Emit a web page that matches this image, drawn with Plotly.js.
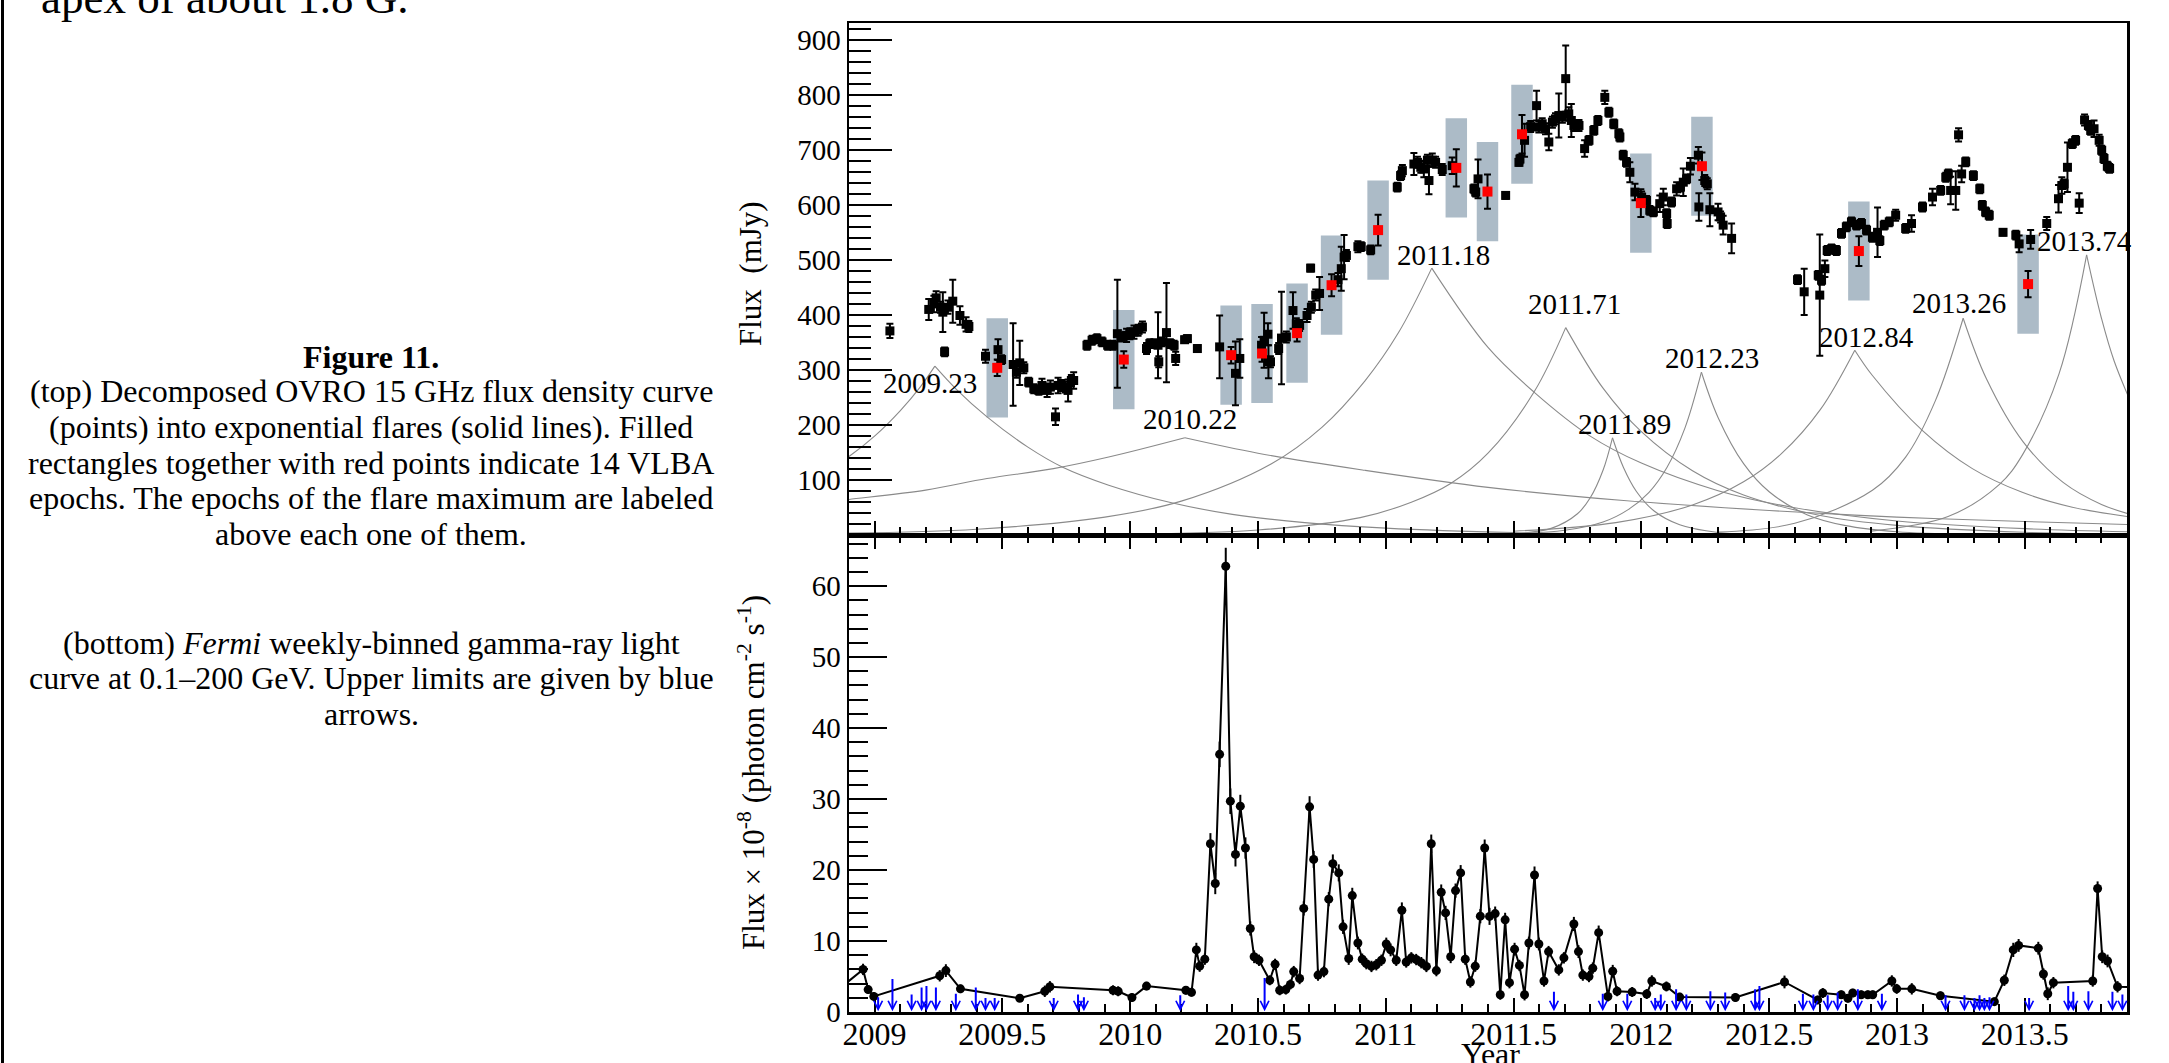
<!DOCTYPE html>
<html><head><meta charset="utf-8">
<script src="https://cdn.plot.ly/plotly-3.0.1.min.js"></script>
<style>html,body{margin:0;padding:0;background:#fff;overflow:hidden;} #chart{width:2169px;height:1063px;}</style>
</head><body><div id="chart"></div>
<script>
// ---------------- OVRO 15 GHz points (year, mJy, error) ----------------
const ovroT = [
 2009.060,2009.212,2009.232,2009.241,2009.258,2009.267,2009.274,2009.287,2009.306,2009.334,
 2009.358,2009.369,2009.434,2009.483,2009.497,2009.542,2009.555,2009.568,2009.584,2009.603,
 2009.623,2009.643,2009.655,2009.675,2009.688,2009.708,2009.718,2009.733,2009.747,2009.757,
 2009.770,2009.779,2009.831,2009.851,2009.870,2009.890,2009.912,2009.933,2009.950,2009.966,
 2009.986,2009.999,2010.015,2010.031,2010.048,2010.064,2010.077,2010.093,2010.109,2010.112,
 2010.124,2010.142,2010.157,2010.172,2010.178,2010.213,2010.224,2010.263,2010.350,2010.412,
 2010.429,2010.514,2010.524,2010.539,2010.541,2010.549,2010.581,2010.592,2010.611,2010.637,
 2010.650,2010.663,2010.692,2010.706,2010.709,2010.726,2010.741,2010.813,2010.826,2010.837,
 2010.846,2010.891,2010.904,2010.941,2011.045,2011.058,2011.065,2011.110,2011.124,2011.137,
 2011.149,2011.163,2011.169,2011.182,2011.195,2011.221,2011.260,2011.345,2011.352,2011.361,
 2011.469,2011.521,2011.525,2011.543,2011.567,2011.590,2011.599,2011.612,2011.625,2011.638,
 2011.652,2011.664,2011.677,2011.691,2011.704,2011.716,2011.726,2011.736,2011.756,2011.778,
 2011.795,2011.814,2011.830,2011.857,2011.873,2011.892,2011.912,2011.916,2011.929,2011.942,
 2011.955,2011.975,2012.001,2012.020,2012.033,2012.047,2012.072,2012.086,2012.099,2012.101,
 2012.118,2012.138,2012.153,2012.164,2012.177,2012.192,2012.223,2012.225,2012.248,2012.258,
 2012.268,2012.300,2012.310,2012.320,2012.353,2012.611,2012.637,2012.692,2012.698,2012.705,
 2012.718,2012.727,2012.744,2012.763,2012.783,2012.802,2012.822,2012.842,2012.861,2012.881,
 2012.904,2012.924,2012.933,2012.950,2012.970,2012.995,2013.034,2013.057,2013.100,2013.139,
 2013.171,2013.191,2013.201,2013.210,2013.230,2013.241,2013.253,2013.269,2013.299,2013.324,
 2013.334,2013.347,2013.361,2013.415,2013.465,2013.478,2013.523,2013.586,2013.632,2013.645,
 2013.654,2013.667,2013.686,2013.699,2013.713,2013.734,2013.749,2013.758,2013.771,2013.791,
 2013.801,2013.810,2013.823,2013.832];
const ovroF = [
 371,410,420,431,414,405,333,414,425,399,
 383,379,325,337,319,310,296,313,304,278,
 266,263,272,263,269,215,272,272,269,263,
 281,281,345,354,357,351,345,345,366,360,
 363,366,369,372,378,339,348,348,345,315,
 351,368,348,345,321,355,357,339,342,294,
 321,345,354,365,315,315,339,358,360,408,
 384,381,399,485,414,436,439,464,484,505,
 508,524,524,518,632,653,662,674,677,668,
 665,681,644,681,677,664,671,629,623,647,
 617,677,683,717,742,780,741,747,738,714,
 750,756,762,759,829,765,753,744,744,702,
 717,735,753,795,768,747,729,723,690,677,
 659,623,614,608,590,587,602,614,584,566,
 605,629,632,641,647,670,690,596,644,638,
 591,587,578,563,539,464,442,472,436,463,
 484,517,520,517,548,560,569,563,566,554,
 541,550,535,563,569,581,557,566,596,614,
 626,650,656,626,626,727,656,678,653,629,
 599,587,581,550,545,529,537,566,611,635,
 638,668,711,717,603,754,744,735,738,717,
 699,684,670,666];
const ovroE = [
 13,19,15,12,10,36,8,12,39,17,
 13,10,12,19,8,75,10,40,10,8,
 8,8,12,12,12,15,14,10,10,20,
 10,15,8,8,8,8,8,8,98,8,
 12,10,12,10,10,10,8,8,60,10,
 8,90,8,8,12,6,6,6,57,58,
 35,15,50,20,30,10,10,84,10,33,
 10,10,12,6,10,10,30,12,40,40,
 10,10,8,8,8,8,10,20,10,10,
 15,10,25,12,10,10,15,8,8,35,
 6,6,8,30,10,27,10,10,10,15,
 10,10,40,10,60,12,30,10,10,15,
 8,8,8,12,8,8,8,8,8,8,
 18,15,10,8,8,8,15,15,8,8,
 8,12,8,25,8,15,15,25,10,10,
 30,15,10,17,27,8,42,8,110,8,
 15,8,8,8,8,8,8,8,8,8,
 8,45,8,8,8,10,8,15,8,15,
 8,8,8,25,35,12,15,8,8,8,
 8,8,8,6,8,15,17,12,25,15,
 8,45,8,8,18,10,8,8,15,10,
 8,8,8,8];

// ---------------- 14 VLBA epochs (red points) ----------------
const vlbaT = [2009.480,2009.975,2010.395,2010.516,2010.653,2010.788,2010.970,2011.276,2011.398,2011.533,2011.998,2012.237,2012.851,2013.513];
const vlbaF = [304,319,327,330,367,454,554,667,624,728,603,670,516,456];
const vlbaE = [15,15,15,15,15,20,28,34,31,35,25,25,27,24];

// ---------------- exponential flares ----------------
const flareLabels = ['2009.23','2010.22','2011.18','2011.71','2011.89','2012.23','2012.84','2013.26','2013.74'];
const flarePeakT = [2009.236,2010.214,2011.180,2011.704,2011.887,2012.235,2012.835,2013.259,2013.742];
const flarePeakF = [307,177,485,377,177,296,336,394,509];
const flareRiseT = [
 [2008.85,2008.9,2009.0,2009.1,2009.18,2009.236],
 [2008.85,2008.9,2009.2,2009.44,2009.7,2009.916,2010.214],
 [2008.85,2009.4,2009.901,2010.2,2010.553,2010.75,2010.918,2011.05,2011.18],
 [2010.0,2010.5,2010.9,2011.1,2011.254,2011.4,2011.58,2011.704],
 [2011.4,2011.5,2011.65,2011.75,2011.8,2011.85,2011.887],
 [2011.5,2011.7,2011.85,2011.95,2012.03,2012.1,2012.17,2012.235],
 [2011.5,2011.9,2012.2,2012.4,2012.55,2012.7,2012.835],
 [2012.3,2012.6,2012.904,2013.034,2013.15,2013.259],
 [2012.9,2013.2,2013.4,2013.491,2013.634,2013.742]];
const flareRiseF = [
 [128,143,180,226,270,307],
 [62,65,82,103,121,142,177],
 [3.5,11,33,62,130,196,280,368,485],
 [2,9.5,32,60,94,149,260,377],
 [1,2.5,13,39,68,118,177],
 [2.5,9,24,47,78,123,194,296],
 [7.4,23,55,97,149,228,336],
 [5.8,21.7,81.7,142,244,394],
 [7.5,34,92,146,293,509]];
const flareDecayT = [
 [2009.236,2009.32,2009.44,2009.6,2009.734,2009.916,2010.162,2010.4,2010.683,2011.0,2011.5,2012.0,2012.7,2013.3,2013.95],
 [2010.214,2010.5,2010.918,2011.4,2011.919,2012.5,2013.0,2013.5,2013.95],
 [2011.18,2011.4,2011.58,2011.8,2012.0,2012.3,2012.6,2013.0,2013.5,2013.95],
 [2011.704,2011.85,2012.0,2012.2,2012.4,2012.7,2013.0,2013.5,2013.95],
 [2011.887,2011.93,2011.98,2012.05,2012.15,2012.3,2012.5,2012.8],
 [2012.235,2012.3,2012.4,2012.5,2012.65,2012.8,2013.0,2013.3,2013.9],
 [2012.835,2012.904,2013.1,2013.295,2013.49,2013.686,2013.95],
 [2013.259,2013.35,2013.493,2013.65,2013.8,2013.95],
 [2013.742,2013.8,2013.85,2013.95]];
const flareDecayF = [
 [307,265,215,160,124,91,59,38,23,13,5,2,0.6,0.2,0.1],
 [177,149,118,87,63.5,45,33,25,19],
 [485,341,260,180,131,81,50,26,12,6],
 [377,267,188,117,73,36,18,5.5,2],
 [177,123,80,44,19,5,1,0.1],
 [296,214,130,79,37,17.5,6.5,1.4,0.1],
 [336,290,190,121,78,51,31],
 [394,284,170,96,56,33],
 [509,394,316,204]];

// ---------------- Fermi weekly light curve ----------------
const fermiT = [
 2008.880,2008.955,2008.975,2008.997,2009.255,2009.279,2009.336,2009.568,2009.666,2009.686,
 2009.933,2009.953,2010.007,2010.064,2010.218,2010.240,2010.259,2010.272,2010.292,2010.314,
 2010.333,2010.350,2010.374,2010.392,2010.412,2010.431,2010.451,2010.470,2010.485,2010.504,
 2010.546,2010.567,2010.585,2010.609,2010.627,2010.640,2010.663,2010.679,2010.702,2010.718,
 2010.735,2010.758,2010.777,2010.793,2010.816,2010.833,2010.855,2010.869,2010.891,2010.908,
 2010.924,2010.944,2010.963,2010.983,2011.002,2011.019,2011.041,2011.063,2011.080,2011.100,
 2011.119,2011.139,2011.159,2011.178,2011.198,2011.217,2011.234,2011.254,2011.273,2011.293,
 2011.311,2011.331,2011.350,2011.370,2011.387,2011.406,2011.428,2011.448,2011.467,2011.484,
 2011.504,2011.523,2011.543,2011.560,2011.582,2011.599,2011.619,2011.637,2011.677,2011.697,
 2011.736,2011.754,2011.771,2011.795,2011.810,2011.833,2011.869,2011.888,2011.905,2011.964,
 2012.021,2012.041,2012.098,2012.150,2012.368,2012.560,2012.690,2012.710,2012.782,2012.808,
 2012.827,2012.860,2012.886,2012.905,2012.980,2012.999,2013.058,2013.170,2013.381,2013.420,
 2013.455,2013.476,2013.553,2013.573,2013.590,2013.612,2013.766,2013.785,2013.803,2013.824,
 2013.863,2013.920];
const fermiF = [
 3.8,6.0,3.16,2.2,5.1,5.83,3.26,1.94,2.92,3.55,
 3.06,2.92,2.04,3.65,3.06,2.77,8.75,6.46,7.44,23.7,
 18.1,36.3,62.8,29.7,22.2,29.0,23.1,11.77,7.78,7.29,
 4.47,6.71,3.06,3.16,3.89,5.69,4.72,14.59,28.9,21.5,
 5.2,5.69,15.9,20.9,19.6,12.0,7.54,16.4,9.72,7.44,
 6.81,6.42,6.66,7.29,9.58,8.75,7.29,14.34,7.05,7.63,
 7.39,6.95,6.42,23.7,5.83,16.87,13.96,7.78,17.1,19.6,
 7.44,4.23,6.46,13.5,23.1,13.47,13.86,2.43,12.98,4.13,
 8.85,6.56,2.43,9.72,19.3,9.58,4.37,8.51,5.93,7.63,
 12.4,8.51,5.2,5.0,6.18,11.18,2.19,5.74,2.92,2.82,
 2.53,4.37,3.6,2.1,2.04,4.23,1.7,2.67,2.43,1.94,
 2.67,2.43,2.43,2.43,4.37,3.26,3.26,2.29,1.46,4.47,
 8.75,9.38,8.99,5.35,2.57,4.13,4.37,17.4,7.78,7.19,
 3.55,3.5];
const fermiE = [
 0.5,0.8,0.6,0.6,0.8,0.9,0.6,0.5,0.8,0.8,
 0.7,0.7,0.6,0.6,0.6,0.6,1.0,0.8,0.8,1.5,
 1.5,1.8,2.6,1.8,1.7,1.6,1.5,1.0,0.9,0.8,
 0.7,0.8,0.7,0.7,0.7,0.8,0.8,1.0,1.5,1.2,
 0.8,0.8,1.0,1.3,1.2,1.0,0.9,1.1,0.9,0.8,
 0.8,0.8,0.8,0.8,0.9,0.9,0.8,1.1,0.8,0.8,
 0.8,0.8,0.8,1.3,0.8,1.1,1.0,0.9,1.0,1.1,
 0.8,0.8,0.8,1.0,1.2,1.2,1.0,0.7,1.0,0.8,
 0.9,0.8,0.8,0.9,1.2,0.9,0.8,0.8,0.8,0.8,
 1.0,0.9,0.8,0.8,0.8,1.0,0.7,0.9,0.7,0.7,
 0.7,0.8,0.7,0.6,0.6,0.9,0.6,0.7,0.6,0.6,
 0.6,0.6,0.6,0.6,0.8,0.7,0.8,0.6,0.6,0.8,
 1.0,0.9,0.9,0.8,0.9,0.8,0.8,1.0,0.9,0.9,
 0.8,0.7];

// ---------------- Fermi upper limits (blue arrows) ----------------
const ulT = [2009.014,2009.070,2009.145,2009.184,2009.203,2009.240,2009.318,2009.396,2009.434,2009.470,
 2009.701,2009.796,2009.819,2010.196,2010.526,2011.658,2011.849,2011.945,2012.054,2012.076,
 2012.136,2012.176,2012.270,2012.328,2012.445,2012.462,2012.632,2012.673,2012.729,2012.768,
 2012.847,2012.941,2013.190,2013.264,2013.303,2013.323,2013.342,2013.362,2013.517,2013.670,
 2013.690,2013.749,2013.843,2013.882];
const ulF = [2.28,4.86,2.67,3.65,3.89,3.65,2.77,3.65,2.19,2.19,
 2.19,2.67,2.28,2.57,5.0,3.06,2.77,2.77,2.19,2.67,
 3.4,2.67,3.15,2.97,3.4,3.89,2.77,2.67,2.57,2.97,
 3.4,2.77,2.57,2.57,2.19,2.57,2.19,2.28,2.19,3.89,
 3.06,3.15,3.06,2.67];

// ---------------- layout helpers ----------------
const W = 2169, H = 1063, ML = 849, MR = 42, MT = 23, MB = 51;
const PW = W - ML - MR, PH = H - MT - MB;
const px = p => (p - ML) / PW;
const py = p => (H - MB - p) / PH;
const SPLIT = py(535);
const FONT = 'Liberation Serif, Times New Roman, serif';
const XR = [2008.9, 2013.9];

const traces = [];
for (let i = 0; i < flareLabels.length; i++) {
  [[flareRiseT[i], flareRiseF[i]], [flareDecayT[i], flareDecayF[i]]].forEach(([xs, ys]) => {
    traces.push({x: xs, y: ys, xaxis: 'x', yaxis: 'y', type: 'scatter', mode: 'lines',
      line: {color: '#8a8a8a', width: 1.1, shape: 'spline'}, hoverinfo: 'skip', showlegend: false});
  });
}
traces.push({x: ovroT, y: ovroF, xaxis: 'x', yaxis: 'y', type: 'scatter', mode: 'markers',
  marker: {symbol: 'square', size: 9, color: 'black'},
  error_y: {type: 'data', array: ovroE, color: 'black', thickness: 2, width: 3.5}, showlegend: false});
traces.push({x: vlbaT, y: vlbaF, xaxis: 'x', yaxis: 'y', type: 'scatter', mode: 'markers',
  marker: {symbol: 'square', size: 10, color: '#ff0000'},
  error_y: {type: 'data', array: vlbaE, color: 'black', thickness: 2, width: 3.5}, showlegend: false});
traces.push({x: fermiT, y: fermiF, xaxis: 'x2', yaxis: 'y2', type: 'scatter', mode: 'lines+markers',
  line: {color: 'black', width: 2}, marker: {symbol: 'circle', size: 9, color: 'black'},
  error_y: {type: 'data', array: fermiE, color: 'black', thickness: 2, width: 0}, showlegend: false});

const shapes = vlbaT.map((t, i) => ({type: 'rect', xref: 'x', yref: 'y', layer: 'below',
  x0: t - 0.042, x1: t + 0.042, y0: vlbaF[i] - 90, y1: vlbaF[i] + 90,
  fillcolor: 'rgb(172,187,199)', line: {width: 0}}));
shapes.push({type: 'line', xref: 'paper', yref: 'paper', x0: px(2.5), x1: px(2.5), y0: py(-5), y1: py(H + 5),
  line: {color: 'black', width: 3}});

const ann = [];
const txt = (text, x, y, size, opts) => ann.push(Object.assign({xref: 'paper', yref: 'paper', x: px(x), y: py(y),
  text: text, showarrow: false, font: {family: FONT, size: size, color: 'black'}, xanchor: 'center', yanchor: 'middle'}, opts || {}));

txt('apex of about 1.8 G.', 39, -2, 45, {xanchor: 'left'});
const capTop = ['<b>Figure 11.</b>',
  '(top) Decomposed OVRO 15 GHz flux density curve',
  '(points) into exponential flares (solid lines). Filled',
  'rectangles together with red points indicate 14 VLBA',
  'epochs. The epochs of the flare maximum are labeled',
  'above each one of them.'];
const capTopY = [357, 391, 427, 463, 498, 534];
capTop.forEach((s, i) => txt(s, 371, capTopY[i], 32));
const capBot = ['(bottom) <i>Fermi</i> weekly-binned gamma-ray light',
  'curve at 0.1\u2013200 GeV. Upper limits are given by blue',
  'arrows.'];
const capBotY = [643, 678, 714];
capBot.forEach((s, i) => txt(s, 371, capBotY[i], 32));

txt('Flux\u00a0 (mJy)', 750, 274, 31, {textangle: -90});
txt('Flux \u00d7 10<sup>-8</sup> (photon cm<sup>-2</sup> s<sup>-1</sup>)', 751, 773, 31, {textangle: -90});
txt('Year', 1490, 1034, 32, {yanchor: 'top'});

const labelDX = [-5, 5, 12, 9, 12, 11, 12, -4, -2];
const labelDY = [-17, 19, 13, 24, 14, 14, 13, 15, 14];
flareLabels.forEach((s, i) => ann.push({xref: 'x', yref: 'y', x: flarePeakT[i], y: flarePeakF[i],
  xshift: labelDX[i], yshift: labelDY[i], text: s, showarrow: false,
  font: {family: FONT, size: 29, color: 'black'}, xanchor: 'center', yanchor: 'middle'}));

ulT.forEach((t, i) => ann.push({xref: 'x2', yref: 'y2', axref: 'x2', ayref: 'y2',
  x: t, y: 0.1, ax: t, ay: ulF[i], text: '', showarrow: true,
  arrowhead: 5, arrowsize: 0.85, arrowwidth: 2, arrowcolor: '#0000ff', standoff: 0, startstandoff: 0}));

const tickFont = {family: FONT, size: 29, color: 'black'};
const axBase = {showgrid: false, zeroline: false, showline: true, linecolor: 'black', linewidth: 2.5,
  ticks: 'inside', tickcolor: 'black', tickwidth: 2, tickfont: tickFont};

const layout = {
  width: W, height: H, margin: {l: ML, r: MR, t: MT, b: MB, pad: 0},
  paper_bgcolor: 'white', plot_bgcolor: 'white', showlegend: false,
  font: {family: FONT, color: 'black'},
  xaxis: Object.assign({}, axBase, {domain: [0, 1], anchor: 'y', range: XR, tickmode: 'linear', tick0: 2009, dtick: 0.5,
    ticklen: 14, showticklabels: false, mirror: true,
    minor: {ticks: 'inside', dtick: 0.1, tick0: 2009, ticklen: 8, tickwidth: 2, tickcolor: 'black', showgrid: false}}),
  yaxis: Object.assign({}, axBase, {domain: [SPLIT, 1], anchor: 'x', range: [0.5, 930], tickmode: 'linear', tick0: 0, dtick: 100,
    ticklen: 43, mirror: true,
    minor: {ticks: 'inside', dtick: 20, tick0: 0, ticklen: 22, tickwidth: 2, tickcolor: 'black', showgrid: false}}),
  xaxis2: Object.assign({}, axBase, {domain: [0, 1], anchor: 'y2', range: XR, tickmode: 'linear', tick0: 2009, dtick: 0.5,
    tickformat: '.1~f', ticklen: 14, mirror: 'ticks', ticklabelstandoff: -8,
    tickfont: {family: FONT, size: 32, color: 'black'},
    minor: {ticks: 'inside', dtick: 0.1, tick0: 2009, ticklen: 8, tickwidth: 2, tickcolor: 'black', showgrid: false}}),
  yaxis2: Object.assign({}, axBase, {domain: [0, SPLIT], anchor: 'x2', range: [0, 67.2], tickmode: 'linear', tick0: 0, dtick: 10,
    ticklen: 38, mirror: true,
    minor: {ticks: 'inside', dtick: 2, tick0: 0, ticklen: 19, tickwidth: 2, tickcolor: 'black', showgrid: false}}),
  shapes: shapes,
  annotations: ann
};

Plotly.newPlot('chart', traces, layout, {displayModeBar: false, staticPlot: true});
</script></body></html>
